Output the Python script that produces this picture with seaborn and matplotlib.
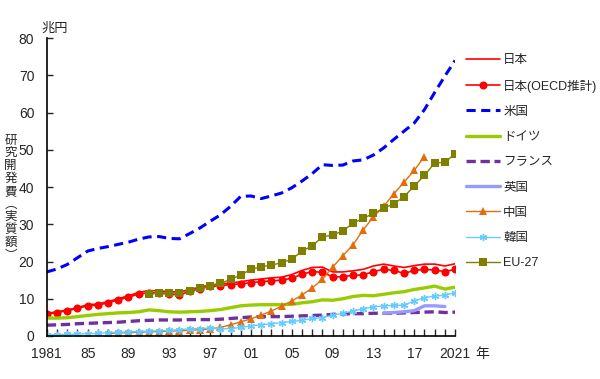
import numpy as np
import pandas as pd
import matplotlib
matplotlib.use("Agg")
import matplotlib.pyplot as plt
import seaborn as sns

# --- data (兆円, 実質額) ---
years = list(range(1981, 2022))

japan = [6.1, 6.5, 7.0, 7.6, 8.4, 8.6, 9.2, 10.0, 10.8, 11.7,
         12.2, 12.1, 11.9, 11.8, 12.5, 13.1, 13.7, 14.0, 14.2, 14.6,
         15.0, 15.3, 15.6, 15.8, 16.5, 17.6, 18.4, 18.5, 17.2, 17.2,
         17.5, 17.9, 18.8, 19.3, 18.8, 18.4, 18.9, 19.3, 19.3, 18.8, 19.4]

japan_oecd = [5.9, 6.3, 6.8, 7.4, 8.1, 8.3, 8.9, 9.7, 10.4, 11.3,
              11.6, 11.5, 11.3, 11.0, 12.0, 12.7, 13.3, 13.5, 13.8, 14.0,
              14.3, 14.6, 14.8, 15.0, 15.5, 16.6, 17.3, 17.1, 15.9, 15.9,
              16.3, 16.4, 17.3, 17.9, 17.6, 16.8, 17.6, 17.9, 17.7, 17.3, 17.9]

usa = [17.2, 18.0, 19.2, 21.0, 22.8, 23.5, 24.0, 24.6, 25.2, 26.0,
       26.6, 26.7, 26.2, 26.1, 27.5, 29.0, 30.8, 32.5, 34.8, 37.5,
       37.6, 36.9, 37.6, 38.4, 39.8, 41.6, 43.6, 46.0, 45.8, 45.9,
       47.0, 47.3, 48.6, 50.5, 52.8, 55.0, 57.2, 60.8, 65.4, 69.8, 74.0]

germany = [4.8, 4.8, 4.9, 5.2, 5.5, 5.8, 6.0, 6.2, 6.3, 6.5,
           7.0, 6.8, 6.5, 6.4, 6.5, 6.6, 6.8, 7.1, 7.6, 8.1,
           8.3, 8.4, 8.4, 8.4, 8.5, 8.9, 9.2, 9.7, 9.6, 10.0,
           10.6, 10.9, 10.8, 11.2, 11.6, 11.9, 12.5, 12.9, 13.4, 12.6, 13.1]

france = [2.9, 3.0, 3.1, 3.3, 3.4, 3.5, 3.6, 3.7, 3.9, 4.1,
          4.2, 4.3, 4.3, 4.3, 4.4, 4.4, 4.4, 4.5, 4.7, 4.9,
          5.1, 5.2, 5.2, 5.2, 5.3, 5.4, 5.5, 5.6, 5.8, 5.9,
          6.0, 6.0, 6.1, 6.1, 6.1, 6.2, 6.3, 6.4, 6.5, 6.3, 6.4]

uk_years = list(range(2014, 2021))
uk = [6.1, 6.3, 6.5, 6.8, 8.1, 8.1, 7.9]

china_years = list(range(1987, 2019))
china = [0.7, 0.8, 0.9, 1.0, 1.1, 1.2, 1.3, 1.4, 1.5, 1.7,
         1.9, 2.3, 3.0, 3.8, 4.6, 5.6, 6.7, 8.0, 9.4, 11.0,
         12.9, 15.2, 18.5, 21.5, 24.5, 28.5, 32.0, 34.8, 38.2, 41.3,
         44.5, 48.2]

korea = [0.3, 0.35, 0.4, 0.5, 0.6, 0.7, 0.9, 1.0, 1.1, 1.2,
         1.3, 1.4, 1.5, 1.7, 1.9, 2.0, 2.1, 1.9, 2.0, 2.3,
         2.7, 3.0, 3.3, 3.6, 3.9, 4.2, 4.7, 4.9, 5.6, 6.1,
         6.7, 7.3, 7.8, 8.1, 8.2, 8.3, 9.4, 10.3, 10.7, 11.0, 11.6]

eu_years = list(range(1991, 2022))
eu27 = [11.3, 11.5, 11.6, 11.6, 12.2, 12.8, 13.4, 14.1, 15.2, 16.4,
        17.9, 18.6, 19.0, 19.7, 20.6, 22.8, 24.2, 26.6, 27.1, 28.2,
        30.3, 31.6, 32.9, 34.3, 35.5, 37.4, 40.3, 43.1, 46.5, 46.6, 49.0]

xtick_labels = {1981: "1981", 1985: "85", 1989: "89", 1993: "93", 1997: "97",
                2001: "01", 2005: "05", 2009: "09", 2013: "13", 2017: "17",
                2021: "2021"}
yticks = list(range(0, 90, 10))
ylabel_chars = list("研究開発費︵実質額︶")

# --- style ---
sns.set_style("ticks")
plt.rcParams["font.family"] = ["Liberation Sans", "Noto Sans CJK JP"]

fig = plt.figure(figsize=(6.0, 3.79), dpi=100)
ax = fig.add_axes([0.078, 0.1135, 0.6805, 0.786])

series = [
    # label, x, y, line style
    ("日本", years, japan, dict(color="#FF0000", lw=1.2, ls="-", marker=None, ms=0)),
    ("日本(OECD推計)", years, japan_oecd, dict(color="#FF0000", lw=1.2, ls="-", marker="o", ms=5.8)),
    ("米国", years, usa, dict(color="#0000FF", lw=2.2, ls=(0, (3, 1.8)), marker=None, ms=0)),
    ("ドイツ", years, germany, dict(color="#99CC00", lw=2.4, ls="-", marker=None, ms=0)),
    ("フランス", years, france, dict(color="#7030A0", lw=2.4, ls=(0, (2.8, 1.4)), marker=None, ms=0)),
    ("英国", uk_years, uk, dict(color="#9999FF", lw=2.4, ls="-", marker=None, ms=0)),
    ("中国", china_years, china, dict(color="#E46C0A", lw=1.0, ls="-", marker="^", ms=5.2)),
    ("韓国", years, korea, dict(color="#66CCFF", lw=1.0, ls="-", marker=(6, 2, 0), ms=5.2)),
    ("EU-27", eu_years, eu27, dict(color="#808000", lw=1.0, ls="-", marker="s", ms=5.2)),
]

for label, xs, ys, st in series:
    df = pd.DataFrame({"year": xs, "value": ys})
    sns.lineplot(data=df, x="year", y="value", ax=ax, label=label,
                 color=st["color"], linewidth=st["lw"])
    line = ax.get_lines()[-1]
    line.set_linestyle(st["ls"])
    if st["marker"] is not None:
        line.set_marker(st["marker"])
        line.set_markersize(st["ms"])
        line.set_markerfacecolor(st["color"])
        line.set_markeredgecolor(st["color"])
        line.set_markeredgewidth(1.0 if st["marker"] == (6, 2, 0) else 0)

ax.set_xlim(1981, 2021)
ax.set_ylim(0, 80)
ax.set_xlabel("")
ax.set_ylabel("")

ax.set_xticks(years)
ax.set_xticklabels([xtick_labels.get(y, "") for y in years])
ax.set_yticks(yticks)
ax.tick_params(axis="x", direction="in", length=5, width=1, pad=8, labelsize=10)
ax.tick_params(axis="y", direction="in", length=4, width=1, pad=9, labelsize=10)
for s in ["top", "right"]:
    ax.spines[s].set_visible(False)
for s in ["left", "bottom"]:
    ax.spines[s].set_color("black")
    ax.spines[s].set_linewidth(1.2)

handles, labels = ax.get_legend_handles_labels()
ax.legend(handles, labels, loc="upper left", bbox_to_anchor=(0.777, 0.857),
          bbox_transform=fig.transFigure, frameon=False, fontsize=9,
          handlelength=2.7, handletextpad=0.25, labelspacing=1.06,
          borderpad=0, borderaxespad=0)

fig.text(0.0695, 0.925, "兆円", ha="left", va="center", fontsize=9.5)
fig.text(0.803, 0.066, "年", ha="center", va="center", fontsize=10)

# vertical y-axis title, one character per row
top_px, step_px = 140, 12.8
for i, ch in enumerate(ylabel_chars):
    ypx = top_px + i * step_px
    fig.text(10.5 / 600, 1 - ypx / 379, ch, ha="center", va="center",
             fontsize=9, family=["Noto Sans CJK JP"])

fig.savefig("out.png", dpi=100)
